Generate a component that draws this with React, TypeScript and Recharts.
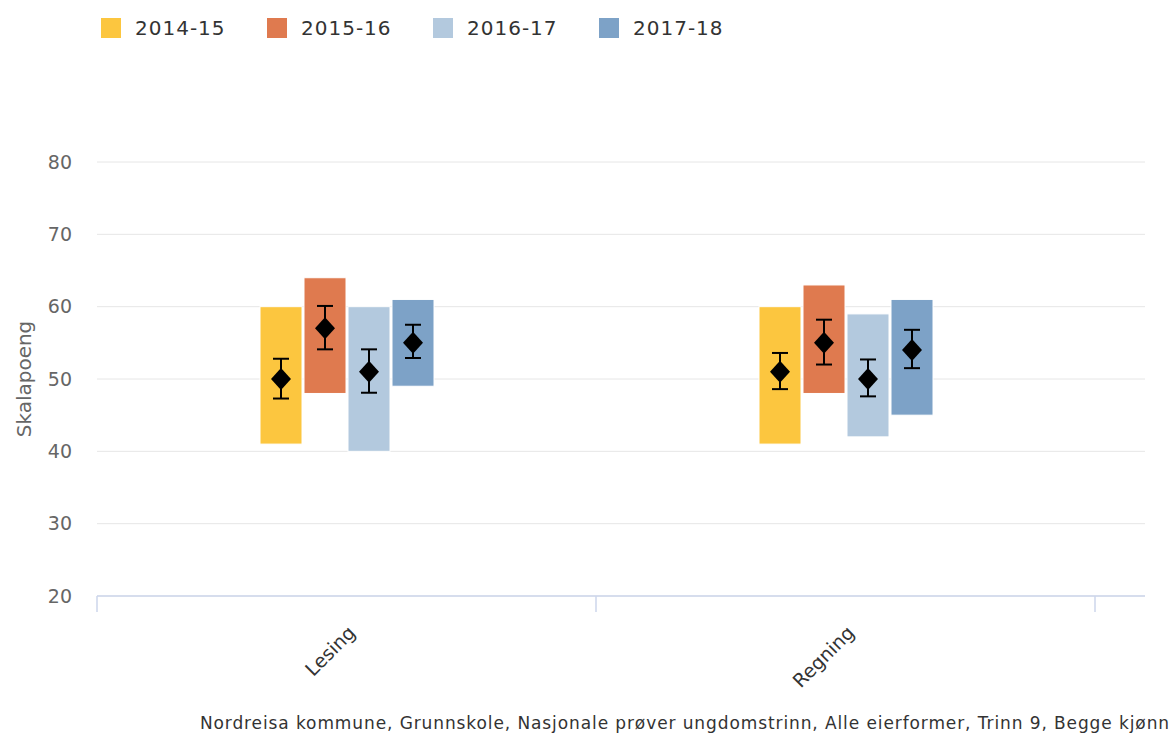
import React from 'react';
import { ComposedChart, Bar, XAxis, YAxis, CartesianGrid } from 'recharts';

const categories = ['Lesing', 'Regning'];
const seriesNames = ['2014-15', '2015-16', '2016-17', '2017-18'];
const seriesColors = ['#FCC63F', '#DF7A4F', '#B3C9DE', '#7DA2C7'];
// per series: values for [Lesing, Regning]
const lowValues = [[41, 41], [48, 48], [40, 42], [49, 45]];
const highValues = [[60, 60], [64, 63], [60, 59], [61, 61]];
const meanValues = [[50, 51], [57, 55], [51, 50], [55, 54]];
const errLowValues = [[47.3, 48.6], [54.1, 52.0], [48.1, 47.6], [52.9, 51.5]];
const errHighValues = [[52.8, 53.6], [60.1, 58.2], [54.1, 52.7], [57.5, 56.8]];
const yTicks = [20, 30, 40, 50, 60, 70, 80];
const yTitle = 'Skalapoeng';
const footerText = 'Nordreisa kommune, Grunnskole, Nasjonale prøver ungdomstrinn, Alle eierformer, Trinn 9, Begge kjønn';

const FONT = '"DejaVu Sans", Verdana, sans-serif';
const AXIS_COLOR = '#ccd6eb';

const data = categories.map((name, ci) => {
  const row: any = { name };
  seriesNames.forEach((_, si) => {
    row[`r${si}`] = [lowValues[si][ci], highValues[si][ci]];
    row[`m${si}`] = meanValues[si][ci];
    row[`el${si}`] = errLowValues[si][ci];
    row[`eh${si}`] = errHighValues[si][ci];
  });
  return row;
});

const makeShape = (si: number) => (props: any) => {
  const { x, y, width, height, payload } = props;
  if (x == null || y == null || !payload) return <g />;
  const [lo, hi] = payload[`r${si}`];
  const top = Math.min(y, y + height);
  const bottom = Math.max(y, y + height);
  const py = (v: number) => bottom - ((v - lo) / (hi - lo)) * (bottom - top);
  const cx = x + width / 2;
  const my = py(payload[`m${si}`]);
  const ey1 = py(payload[`eh${si}`]);
  const ey2 = py(payload[`el${si}`]);
  return (
    <g>
      <rect x={x} y={top} width={width} height={bottom - top} fill={seriesColors[si]} stroke="#ffffff" strokeWidth={1} />
      <line x1={cx} x2={cx} y1={ey1} y2={ey2} stroke="#000" strokeWidth={2} />
      <line x1={cx - 8} x2={cx + 8} y1={ey1} y2={ey1} stroke="#000" strokeWidth={2} />
      <line x1={cx - 8} x2={cx + 8} y1={ey2} y2={ey2} stroke="#000" strokeWidth={2} />
      <path d={`M${cx},${my - 11} L${cx + 10},${my} L${cx},${my + 11} L${cx - 10},${my} Z`} fill="#000" />
    </g>
  );
};

const CatTick = (props: any) => {
  const { x, y, payload, index, visibleTicksCount } = props;
  const half = payload && payload.offset ? payload.offset : 0;
  const isLast = visibleTicksCount != null ? index === visibleTicksCount - 1 : index === categories.length - 1;
  const tx = x + 10;
  const ty = y + 38;
  return (
    <g>
      <line x1={x - half} x2={x - half} y1={y} y2={y + 16} stroke={AXIS_COLOR} strokeWidth={1.5} />
      {isLast && <line x1={x + half} x2={x + half} y1={y} y2={y + 16} stroke={AXIS_COLOR} strokeWidth={1.5} />}
      <text
        x={tx}
        y={ty}
        textAnchor="end"
        transform={`rotate(-45, ${tx}, ${ty})`}
        fill="#333"
        fontSize={19}
        fontFamily={FONT}
      >
        {payload.value}
      </text>
    </g>
  );
};

const YTitle = (props: any) => {
  const vb = props.viewBox || {};
  const cy = (vb.y || 0) + (vb.height || 0) / 2;
  const cx = 31;
  return (
    <text
      x={cx}
      y={cy}
      textAnchor="middle"
      transform={`rotate(-90, ${cx}, ${cy})`}
      fill="#666"
      fontSize={20}
      fontFamily={FONT}
    >
      {yTitle}
    </text>
  );
};

export default function App() {
  return (
    <div style={{ position: 'absolute', left: 0, top: 0, width: 1173, height: 735, background: '#fff' }}>
      <div style={{ position: 'absolute', left: 101, top: 15, display: 'flex', fontFamily: FONT, fontSize: 20, color: '#333' }}>
        {seriesNames.map((n, i) => (
          <div key={n} style={{ display: 'flex', alignItems: 'center', width: 166, height: 26 }}>
            <div style={{ width: 20, height: 20, background: seriesColors[i], marginRight: 14 }} />
            <span style={{ letterSpacing: 1 }}>{n}</span>
          </div>
        ))}
      </div>
      <ComposedChart
        width={1173}
        height={735}
        data={data}
        margin={{ top: 162, right: 28, left: 0, bottom: 39 }}
        barSize={42}
        barGap={2}
      >
        <CartesianGrid vertical={false} stroke="#e6e6e6" />
        <XAxis
          dataKey="name"
          padding={{ left: 0, right: 50 }}
          height={100}
          axisLine={{ stroke: AXIS_COLOR, strokeWidth: 1.5 }}
          tickLine={false}
          tickSize={0}
          tickMargin={0}
          tick={CatTick}
          interval={0}
        />
        <YAxis
          domain={[20, 80]}
          ticks={yTicks}
          width={97}
          axisLine={false}
          tickLine={false}
          tickSize={0}
          tickMargin={25}
          tick={{ fill: '#666', fontSize: 19, fontFamily: FONT }}
          label={<YTitle />}
        />
        {seriesNames.map((n, si) => (
          <Bar
            key={n}
            dataKey={`r${si}`}
            name={n}
            fill={seriesColors[si]}
            shape={makeShape(si)}
            isAnimationActive={false}
          />
        ))}
      </ComposedChart>
      <div style={{ position: 'absolute', right: 3, top: 713, lineHeight: '20px', fontFamily: FONT, fontSize: 17, letterSpacing: 0.9, color: '#333', whiteSpace: 'nowrap' }}>
        {footerText}
      </div>
    </div>
  );
}
